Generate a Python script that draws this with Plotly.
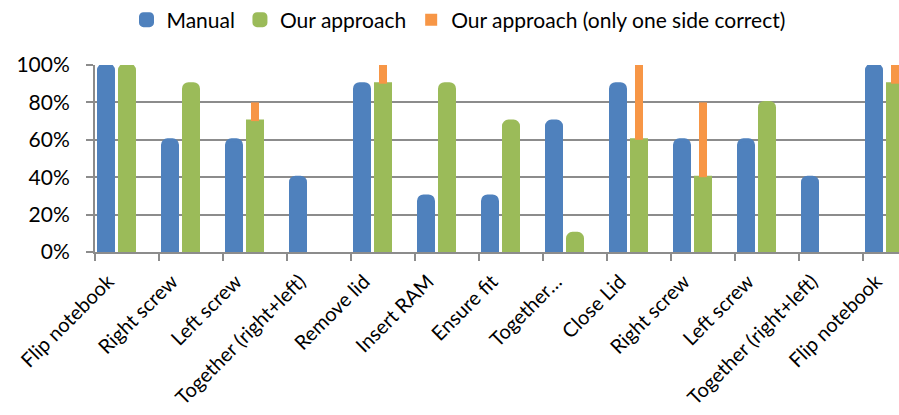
import plotly.graph_objects as go

categories = ["Flip notebook", "Right screw", "Left screw", "Together (right+left)",
              "Remove lid", "Insert RAM", "Ensure fit", "Together…", "Close Lid",
              "Right screw", "Left screw", "Together (right+left)", "Flip notebook"]
manual = [1.0, 0.6, 0.6, 0.4, 0.9, 0.3, 0.3, 0.7, 0.9, 0.6, 0.6, 0.4, 1.0]
ours = [1.0, 0.9, 0.7, 0.0, 0.9, 0.9, 0.7, 0.1, 0.6, 0.4, 0.8, 0.0, 0.9]
one_side = [0.0, 0.0, 0.1, 0.0, 0.1, 0.0, 0.0, 0.0, 0.4, 0.4, 0.0, 0.0, 0.1]
y_ticks = [0, 0.2, 0.4, 0.6, 0.8, 1.0]

BLUE = "#4f81bd"
GREEN = "#9bbb59"
ORANGE = "#f79646"
GRID = "#8c8c8c"
FONT = "Lato"

x = list(range(len(categories)))
PX = 64.0  # pixels per category
LABEL_SHIFT = 19 / PX

def nz(v):
    return [a if a else None for a in v]

fig = go.Figure()
fig.add_trace(go.Bar(
    x=x, y=nz(manual), name="Manual",
    marker=dict(color=BLUE, line=dict(color=BLUE, width=3), cornerradius=5),
    width=15 / PX, offset=-28.5 / PX,
))
fig.add_trace(go.Bar(
    x=x, y=nz(ours), name="Our approach",
    marker=dict(color=GREEN, line=dict(color=GREEN, width=3), cornerradius=5),
    width=15 / PX, offset=-7.5 / PX,
))
fig.add_trace(go.Bar(
    x=x, y=nz(one_side), base=ours, name="Our approach (only one side correct)",
    marker=dict(color=ORANGE, line=dict(width=0)),
    width=8 / PX, offset=-4 / PX,
))

W, H = 899, 415
left, top, bottom = 95, 65, 252
xmax = -0.5 + (W - left) / PX

fig.update_layout(
    width=W, height=H,
    margin=dict(l=left, r=0, t=top, b=H - bottom, autoexpand=False),
    barmode="overlay",
    plot_bgcolor="white", paper_bgcolor="white",
    font=dict(family=FONT, size=21, color="#000000"),
    showlegend=True,
    legend=dict(
        orientation="h", xref="container", yref="container",
        x=0.51, xanchor="center", y=1 - 20 / H, yanchor="middle",
        font=dict(family=FONT, size=21, color="#000000"),
        itemwidth=30, traceorder="normal", bgcolor="rgba(0,0,0,0)",
    ),
    xaxis=dict(
        range=[-0.5, xmax], tickmode="array",
        tickvals=[i - LABEL_SHIFT for i in x], ticktext=categories,
        tickangle=-45, ticks="", showgrid=False, zeroline=False,
        showline=True, linecolor=GRID, linewidth=2, layer="below traces",
        tickfont=dict(family=FONT, size=20, color="#000000"),
        ticklabelstandoff=8, ticklabeloverflow="allow",
        minor=dict(ticks="outside", tick0=-0.5, dtick=1, ticklen=7,
                   tickcolor=GRID, tickwidth=2, showgrid=False),
        automargin=False, fixedrange=True,
    ),
    yaxis=dict(
        range=[0, 1], tickmode="array", tickvals=y_ticks, tickformat=".0%",
        ticks="outside", ticklen=7, tickcolor=GRID, tickwidth=2,
        showgrid=True, gridcolor=GRID, gridwidth=2, zeroline=False,
        showline=True, linecolor=GRID, linewidth=2,
        ticklabelstandoff=12,
        tickfont=dict(family=FONT, size=21, color="#000000"),
        automargin=False, fixedrange=True,
    ),
)

fig.write_html("out.html")
